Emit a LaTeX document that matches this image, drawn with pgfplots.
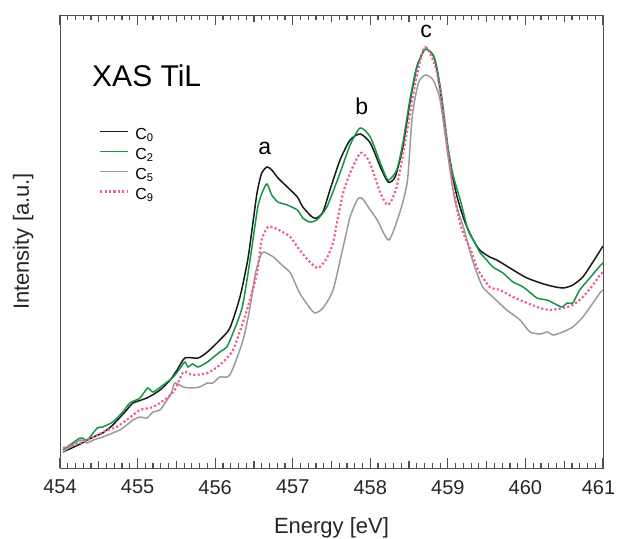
\documentclass[border=0pt]{standalone}
\usepackage{fontspec}
\setmainfont{Liberation Sans}
\usepackage{pgfplots}
\pgfplotsset{compat=1.18}
\definecolor{cblack}{RGB}{25,25,25}
\definecolor{cgreen}{RGB}{20,150,70}
\definecolor{cgray}{RGB}{155,155,155}
\definecolor{cpink}{RGB}{240,95,150}
\definecolor{axgray}{RGB}{80,80,80}

\begin{document}
\begin{tikzpicture}
\begin{axis}[
    scale only axis, width=543pt, height=453pt,
    xmin=454, xmax=461, ymin=0, ymax=453,
    axis line style={axgray, line width=0.9pt},
    xtick={454,455,456,457,458,459,460,461},
    xticklabels={454,455,456,457,458,459,460,\makebox[0pt]{461\kern9pt}},
    minor x tick num=9,
    ymajorticks=false,
    xtick pos=both,
    tick align=inside,
    major tick length=10pt, minor tick length=5pt,
    tick style={color=axgray, line width=1.2pt},
    xticklabel style={font=\fontsize{20}{20}\selectfont, inner sep=0pt, anchor=north, yshift=-12pt, text=black!85},
    xlabel={Energy [eV]},
    xlabel style={at={(axis description cs:0.5,0)}, anchor=base, yshift=-65pt, font=\fontsize{22}{22}\selectfont, text=black!85},
    ylabel={Intensity [a.u.]},
    ylabel style={at={(axis description cs:-0.0571,0.5)}, anchor=base, font=\fontsize{22}{22}\selectfont, text=black!85},
    legend style={at={(axis description cs:0.0718,0.7525)}, anchor=north west, draw=none, fill=none,
        font=\fontsize{16}{16}\selectfont, inner sep=0pt,
        nodes={inner sep=0pt, text height=12pt, text depth=8pt},
        /tikz/every odd column/.append style={column sep=6pt}},
    legend cell align=left,
    legend image code/.code={\draw[#1] (0pt,5.8pt) -- (28pt,5.8pt);},
  ]

  % C0
  \addplot[cblack, line width=1.5pt, smooth, tension=0.4] coordinates {
    (454.04,16)(454.26,24)(454.43,31)(454.55,35)(454.68,43)(454.86,58)(454.94,65)
    (455.12,70)(455.29,78)(455.42,88)(455.51,98)(455.61,110)(455.78,110)(455.90,116)
    (456.06,128)(456.19,140)(456.32,171)(456.42,208)(456.48,241)(456.54,275)(456.60,295)
    (456.67,301)(456.73,298)(456.81,290)(456.93,281)(457.06,271)(457.13,261)(457.25,251)
    (457.31,250)(457.39,256)(457.48,278)(457.61,308)(457.74,328)(457.87,334)(458.00,325)
    (458.13,301)(458.23,286)(458.32,291)(458.42,321)(458.51,365)(458.60,401)(458.68,416)
    (458.72,419)(458.81,413)(458.86,398)(458.92,368)(459.00,318)(459.07,288)(459.13,268)
    (459.22,246)(459.32,229)(459.41,218)(459.54,211)(459.63,208)(459.80,200)(460.02,190)
    (460.28,183)(460.48,180)(460.61,183)(460.74,191)(460.87,206)(461.00,222)
  };
  \addlegendentry{C\textsubscript{0}}

  % C2
  \addplot[cgreen, line width=1.5pt, smooth, tension=0.4] coordinates {
    (454.04,18)(454.26,30)(454.35,28)(454.48,40)(454.55,41)(454.68,46)(454.81,56)
    (454.90,65)(455.03,70)(455.13,80)(455.20,76)(455.33,83)(455.46,91)(455.55,100)
    (455.61,106)(455.65,101)(455.71,104)(455.78,101)(455.90,106)(456.06,116)(456.15,121)
    (456.23,135)(456.35,161)(456.45,208)(456.55,261)(456.62,278)(456.67,284)(456.73,273)
    (456.81,266)(456.93,263)(457.06,258)(457.13,250)(457.22,246)(457.31,248)(457.44,261)
    (457.61,295)(457.74,323)(457.87,340)(458.00,331)(458.13,305)(458.23,288)(458.34,298)
    (458.42,325)(458.51,368)(458.60,401)(458.71,419)(458.81,413)(458.86,400)(458.92,372)
    (459.00,322)(459.07,292)(459.16,268)(459.26,238)(459.35,225)(459.41,216)(459.50,208)
    (459.58,201)(459.71,195)(459.84,186)(459.97,181)(460.15,170)(460.28,168)(460.36,165)
    (460.47,161)(460.54,165)(460.61,165)(460.70,178)(460.83,190)(460.96,202)(461.00,205)
  };
  \addlegendentry{C\textsubscript{2}}

  % C5
  \addplot[cgray, line width=1.5pt, smooth, tension=0.4] coordinates {
    (454.04,16)(454.26,28)(454.35,25)(454.43,28)(454.55,31)(454.68,35)(454.77,38)
    (454.86,43)(454.94,48)(455.03,51)(455.12,50)(455.20,56)(455.29,58)(455.38,68)
    (455.44,76)(455.48,85)(455.59,81)(455.68,80)(455.80,81)(455.90,85)(455.97,85)
    (456.06,91)(456.19,93)(456.36,128)(456.45,161)(456.52,195)(456.60,215)(456.66,215)
    (456.75,211)(456.86,203)(456.97,195)(457.09,175)(457.22,160)(457.29,155)(457.39,160)
    (457.52,178)(457.65,221)(457.74,251)(457.83,268)(457.89,270)(458.00,258)(458.09,248)
    (458.24,228)(458.39,258)(458.48,288)(458.54,351)(458.62,385)(458.71,393)(458.81,388)
    (458.90,368)(459.00,313)(459.09,268)(459.20,241)(459.29,215)(459.36,198)(459.45,181)
    (459.58,171)(459.76,158)(459.93,148)(460.06,136)(460.19,134)(460.28,136)(460.36,133)
    (460.48,136)(460.61,141)(460.74,151)(460.87,165)(460.96,175)(461.00,178)
  };
  \addlegendentry{C\textsubscript{5}}

  % C9
  \addplot[cpink, line width=2.2pt, dash pattern=on 2.2pt off 2.2pt, smooth, tension=0.4] coordinates {
    (454.04,20)(454.26,25)(454.43,31)(454.61,38)(454.73,41)(454.86,48)(455.03,58)
    (455.20,61)(455.38,70)(455.48,78)(455.59,96)(455.71,93)(455.90,95)(456.06,103)
    (456.23,118)(456.41,158)(456.54,195)(456.60,228)(456.68,241)(456.77,240)(456.87,236)
    (456.97,231)(457.09,218)(457.22,206)(457.33,200)(457.44,210)(457.52,225)(457.57,245)
    (457.65,275)(457.74,295)(457.87,315)(457.96,310)(458.02,300)(458.13,275)(458.23,263)
    (458.34,281)(458.47,335)(458.58,385)(458.68,418)(458.73,420)(458.81,408)(458.86,395)
    (458.92,368)(459.00,318)(459.08,275)(459.17,241)(459.31,215)(459.39,198)(459.54,181)
    (459.67,178)(459.84,171)(460.02,165)(460.19,160)(460.32,158)(460.48,160)(460.61,163)
    (460.74,171)(460.87,183)(460.96,193)(461.00,196)
  };
  \addlegendentry{C\textsubscript{9}}

  \node[anchor=base west, font=\fontsize{30}{30}\selectfont] at (axis cs:454.37,381) {XAS TiL};
  \node[anchor=base, font=\fontsize{23}{23}\selectfont] at (axis cs:456.64,313) {a};
  \node[anchor=base, font=\fontsize{23}{23}\selectfont] at (axis cs:457.89,353) {b};
  \node[anchor=base, font=\fontsize{23}{23}\selectfont] at (axis cs:458.72,430) {c};
\end{axis}
% tick marks along the bottom and top frame (0.1 eV = 543pt/70)
\begin{scope}[draw=axgray, line width=1.2pt]
  \foreach \k in {0,...,70} {
    \draw (\k*7.7571pt,0pt) -- (\k*7.7571pt,5pt);
    \draw (\k*7.7571pt,453pt) -- (\k*7.7571pt,448pt);
  }
  \foreach \k in {5,15,...,65} {
    \draw (\k*7.7571pt,0pt) -- (\k*7.7571pt,7.5pt);
    \draw (\k*7.7571pt,453pt) -- (\k*7.7571pt,445.5pt);
  }
  \foreach \k in {0,10,...,70} {
    \draw (\k*7.7571pt,0pt) -- (\k*7.7571pt,10pt);
    \draw (\k*7.7571pt,453pt) -- (\k*7.7571pt,443pt);
  }
\end{scope}
\pgfresetboundingbox
\useasboundingbox (-60pt,-70pt) rectangle (558pt,468pt);
\end{tikzpicture}
\end{document}
